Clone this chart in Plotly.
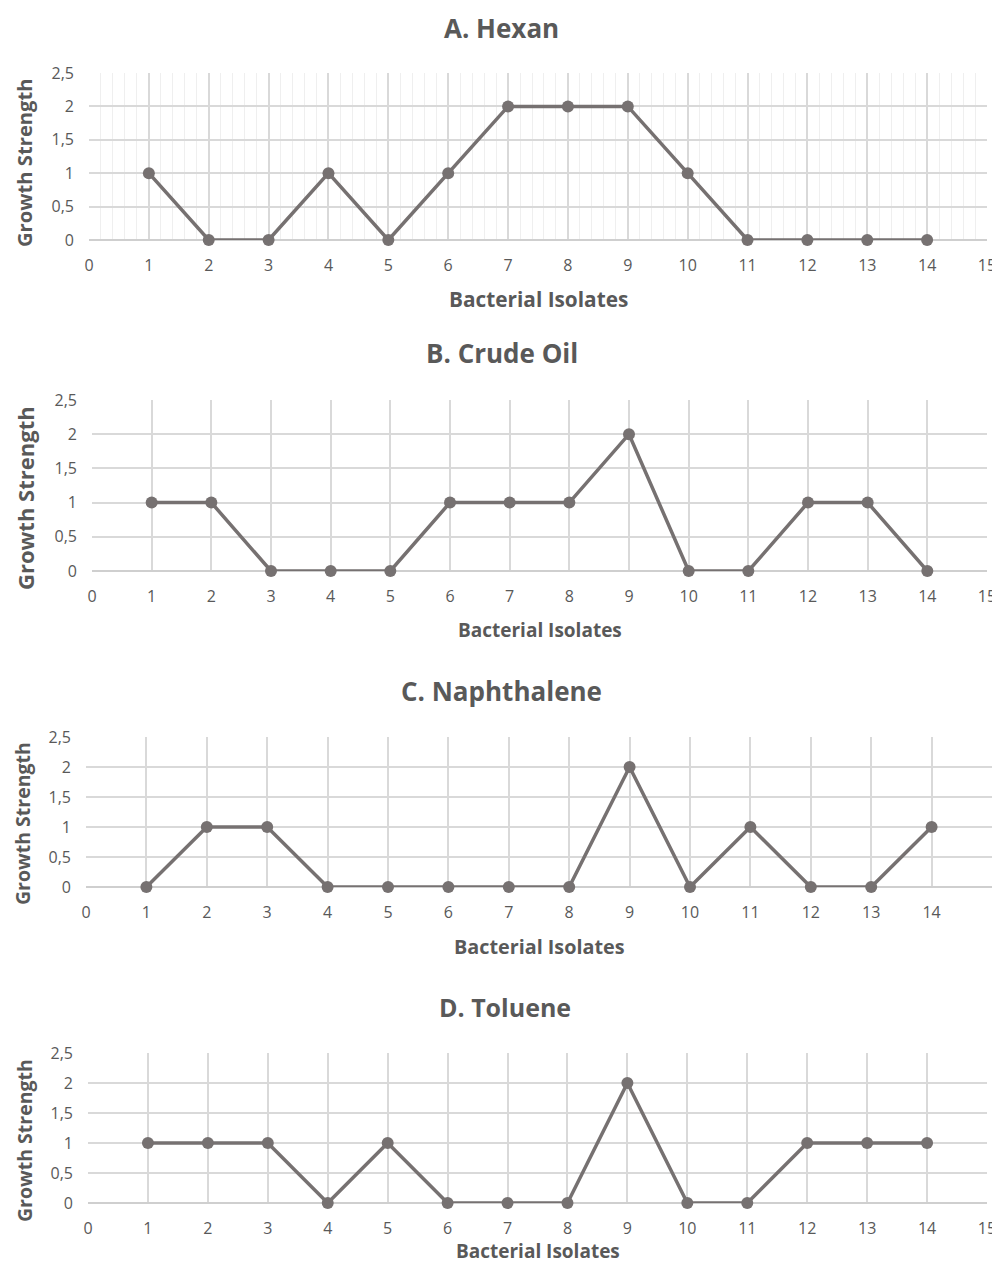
import plotly.graph_objects as go

isolates = list(range(1, 15))
hexan = [1, 0, 0, 1, 0, 1, 2, 2, 2, 1, 0, 0, 0, 0]
crude_oil = [1, 1, 0, 0, 0, 1, 1, 1, 2, 0, 0, 1, 1, 0]
naphthalene = [0, 1, 1, 0, 0, 0, 0, 0, 2, 0, 1, 0, 0, 1]
toluene = [1, 1, 1, 0, 1, 0, 0, 0, 2, 0, 0, 1, 1, 1]

panel_titles = ["A. Hexan", "B. Crude Oil", "C. Naphthalene", "D. Toluene"]
x_ticks = list(range(0, 16))
y_tickvals = [0, 0.5, 1, 1.5, 2, 2.5]
y_ticktext = ["0", "0,5", "1", "1,5", "2", "2,5"]

series = [hexan, crude_oil, naphthalene, toluene]

# page body has an 8px margin; figure sized to fit the window without scrollbars
OFF = 8
W = 992.0
H = 1254.0
# pixel layout per panel in window coords:
# (x0px, x15px, y0px, y25px, title_x, title_y, xtitle_y, ytitle_x, ytitle_y)
layout_px = [
    (89, 987, 240, 73, 501, 28, 299, 24, 163),
    (92, 987, 571, 400, 502, 353, 630, 25, 498),
    (86, 992, 887, 737, 501, 691, 946, 23, 824),
    (88, 987, 1203, 1053, 505, 1007, 1251, 24, 1141),
]
# font sizes per panel: (title, x title, y title)
font_sizes = [
    (26, 20.8, 20.2),
    (26, 19, 22),
    (26, 19.8, 19.5),
    (25, 19, 19.5),
]

LINE = "#767171"
TEXT = "#595959"
GRID = "#d9d9d9"
FONT = "Open Sans"

fig = go.Figure()
annotations = []
for i, (vals, title, px, fs) in enumerate(zip(series, panel_titles, layout_px, font_sizes)):
    n = "" if i == 0 else str(i + 1)
    x0, x1, y0, y1, tx, ty, xty, ytx, yty = [v - OFF for v in px]
    fig.add_trace(go.Scatter(
        x=isolates, y=vals, mode="lines+markers",
        line=dict(color=LINE, width=3.5),
        marker=dict(color=LINE, size=12),
        cliponaxis=False,
        xaxis="x" + n, yaxis="y" + n, showlegend=False,
    ))
    xa = dict(
        domain=[x0 / W, min(x1 / W, 1.0)], range=[0, 15], anchor="y" + n,
        tickvals=x_ticks, ticktext=[str(t) for t in x_ticks],
        showgrid=True, gridcolor=GRID, gridwidth=1.5,
        zeroline=False, showline=False, ticks="",
        ticklabelstandoff=14,
        tickfont=dict(family=FONT, size=16, color=TEXT),
        fixedrange=True,
    )
    if i == 0:
        xa["minor"] = dict(dtick=0.2, showgrid=True, gridcolor="#efefef", gridwidth=1)
    ya = dict(
        domain=[1 - y0 / H, 1 - y1 / H], range=[0, 2.5], anchor="x" + n,
        tickvals=y_tickvals, ticktext=y_ticktext,
        showgrid=True, gridcolor=GRID, gridwidth=1.5,
        zeroline=True, zerolinecolor="#cfcfcf", zerolinewidth=2,
        showline=False, ticks="", ticklen=0,
        ticklabelstandoff=14,
        tickfont=dict(family=FONT, size=16, color=TEXT),
        fixedrange=True,
    )
    fig.layout["xaxis" + n] = xa
    fig.layout["yaxis" + n] = ya
    annotations.append(dict(
        text="<b>" + title + "</b>", xref="paper", yref="paper",
        x=tx / W, y=1 - ty / H, xanchor="center", yanchor="middle",
        showarrow=False, font=dict(family=FONT, size=fs[0], color=TEXT),
    ))
    annotations.append(dict(
        text="<b>Bacterial Isolates</b>", xref="paper", yref="paper",
        x=(x0 + x1) / 2 / W, y=1 - xty / H, xanchor="center", yanchor="middle",
        showarrow=False, font=dict(family=FONT, size=fs[1], color=TEXT),
    ))
    annotations.append(dict(
        text="<b>Growth Strength</b>", xref="paper", yref="paper",
        x=ytx / W, y=1 - yty / H, xanchor="center", yanchor="middle",
        textangle=-90,
        showarrow=False, font=dict(family=FONT, size=fs[2], color=TEXT),
    ))

fig.update_layout(
    width=int(W), height=int(H),
    margin=dict(l=0, r=0, t=0, b=0, autoexpand=False),
    paper_bgcolor="white", plot_bgcolor="white",
    annotations=annotations,
)
fig.write_html("out.html")
